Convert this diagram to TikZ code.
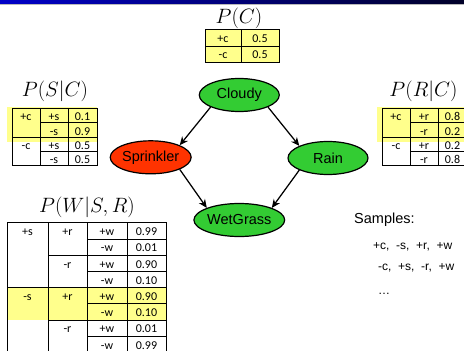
\documentclass[tikz,border=0pt]{standalone}
\usepackage{fontspec}
\newfontfamily\tabfont{Carlito}
\newfontfamily\helv{Liberation Sans}
\usetikzlibrary{arrows.meta,shapes.geometric}

\definecolor{cptyellow}{RGB}{255,255,140}
\definecolor{nodegreen}{RGB}{51,204,51}
\definecolor{nodered}{RGB}{255,51,0}
\definecolor{barblue}{RGB}{0,0,200}
\definecolor{barnavy}{RGB}{0,0,40}

\tikzset{
  bnnode/.style={ellipse, draw=black, line width=1.2pt, minimum width=80pt,
    minimum height=33pt, inner sep=0pt, font=\helv\fontsize{14.5}{16}\selectfont},
  edge/.style={-{Stealth[length=8.5pt,width=7.5pt]}, line width=1.25pt},
  cell/.style={font=\tabfont\fontsize{12}{13}\selectfont, inner sep=0pt, anchor=base},
  cpttitle/.style={font=\fontsize{21}{24}\selectfont, inner sep=0pt},
  gridline/.style={line width=0.8pt},
  hilite/.style={fill=cptyellow, draw=none},
  sampletxt/.style={font=\helv\fontsize{12}{14}\selectfont, anchor=west, inner sep=0pt},
}

% one table entry: name, x, baseline y, text
\newcommand\tcell[4]{\node[cell] (#1) at ({#2},{#3}) {#4};}

\begin{document}
\begin{tikzpicture}[x=1pt,y=-1pt]
\useasboundingbox (0,0) rectangle (464,351);

% title bar
\shade[left color=barblue, right color=barnavy] (0,0) rectangle (464,3.7);
\draw[gray!55, line width=0.6pt] (0,4.3) -- (464,4.3);

% ---------- P(C) ----------
\node[cpttitle] (tC) at (239,18) {$P(C)$};
\fill[hilite] (205,29) rectangle (279,62);
\draw[gridline] (205,29) rectangle (279,62);
\draw[gridline] (241,29) -- (241,62) (205,46) -- (279,46);
\tcell{c11}{223}{42.3}{+c}
\tcell{c12}{260}{42.3}{0.5}
\tcell{c21}{223}{58.8}{-c}
\tcell{c22}{260}{58.8}{0.5}

% ---------- P(S|C) ----------
\node[cpttitle] (tS) at (55,91.7) {$P(S|C)$};
\fill[hilite] (7,107) rectangle (97,141.5);
\draw[gridline] (12,108) rectangle (97,165);
\draw[gridline] (40,108) -- (40,165) (68,108) -- (68,165) (12,137) -- (97,137)
  (40,122.5) -- (97,122.5) (40,151) -- (97,151);
\tcell{s11}{26}{120.7}{+c}
\tcell{s31}{26}{149.7}{-c}
\tcell{s12}{54}{120.7}{+s}
\tcell{s22}{54}{135.2}{-s}
\tcell{s32}{54}{149.7}{+s}
\tcell{s42}{54}{163.7}{-s}
\tcell{s13}{82.5}{120.7}{0.1}
\tcell{s23}{82.5}{135.2}{0.9}
\tcell{s33}{82.5}{149.7}{0.5}
\tcell{s43}{82.5}{163.7}{0.5}

% ---------- P(R|C) ----------
\node[cpttitle] (tR) at (423.5,91.7) {$P(R|C)$};
\fill[hilite] (377,107) rectangle (470,141.5);
\draw[gridline] (382,108) rectangle (467,165);
\draw[gridline] (410,108) -- (410,165) (438,108) -- (438,165) (382,137) -- (467,137)
  (410,122.5) -- (467,122.5) (410,151) -- (467,151);
\tcell{r11}{396}{120.7}{+c}
\tcell{r31}{396}{149.7}{-c}
\tcell{r12}{424}{120.7}{+r}
\tcell{r22}{424}{135.2}{-r}
\tcell{r32}{424}{149.7}{+r}
\tcell{r42}{424}{163.7}{-r}
\tcell{r13}{452.5}{120.7}{0.8}
\tcell{r23}{452.5}{135.2}{0.2}
\tcell{r33}{452.5}{149.7}{0.2}
\tcell{r43}{452.5}{163.7}{0.8}

% ---------- P(W|S,R) ----------
\node[cpttitle] (tW) at (87,207) {$P(W|S,R)$};
\fill[hilite] (7,287.5) rectangle (166,320);
\draw[gridline] (7,222.7) rectangle (166,352.3);
\foreach \xx in {48,87,127} \draw[gridline] (\xx,222.7) -- (\xx,352.3);
\draw[gridline] (7,287.5) -- (166,287.5);
\foreach \yy in {255.1,319.9} \draw[gridline] (48,\yy) -- (166,\yy);
\foreach \yy in {238.9,271.3,303.7,336.1} \draw[gridline] (87,\yy) -- (166,\yy);
\foreach \txt [count=\i] in {+s,-s}
  {\tcell{ws\i}{27.5}{235.6+64.8*(\i-1)}{\txt}}
\foreach \txt [count=\i] in {+r,-r,+r,-r}
  {\tcell{wr\i}{67.5}{235.6+32.4*(\i-1)}{\txt}}
\foreach \txt [count=\i] in {+w,-w,+w,-w,+w,-w,+w,-w}
  {\tcell{ww\i}{107}{235.6+16.2*(\i-1)}{\txt}}
\foreach \txt [count=\i] in {0.99,0.01,0.90,0.10,0.90,0.10,0.01,0.99}
  {\tcell{wp\i}{146.5}{235.6+16.2*(\i-1)}{\txt}}

% ---------- network ----------
\node[bnnode, fill=nodegreen] (cloudy) at (239.3,95) {Cloudy};
\node[bnnode, fill=nodered] (sprinkler) at (150.7,157.3) {Sprinkler};
\node[bnnode, fill=nodegreen] (rain) at (328,158) {Rain};
\node[bnnode, fill=nodegreen] (wetgrass) at (239.3,220) {WetGrass};
\draw[edge] (cloudy.south west) -- (sprinkler.north east);
\draw[edge] (cloudy.south east) -- (rain.north west);
\draw[edge] (sprinkler.south east) -- (wetgrass.north west);
\draw[edge] (rain.south west) -- (wetgrass.north east);

% ---------- samples ----------
\node[sampletxt, font=\helv\fontsize{14.5}{16}\selectfont] (samples) at (354,219.5) {Samples:};
\node[sampletxt] (samp1) at (373,247) {+c,~ -s,~ +r,~ +w};
\node[sampletxt] (samp2) at (378,267.5) {-c,~ +s,~ -r,~ +w};
\node[sampletxt] (samp3) at (378,294) {\ldots};
\end{tikzpicture}
\end{document}
